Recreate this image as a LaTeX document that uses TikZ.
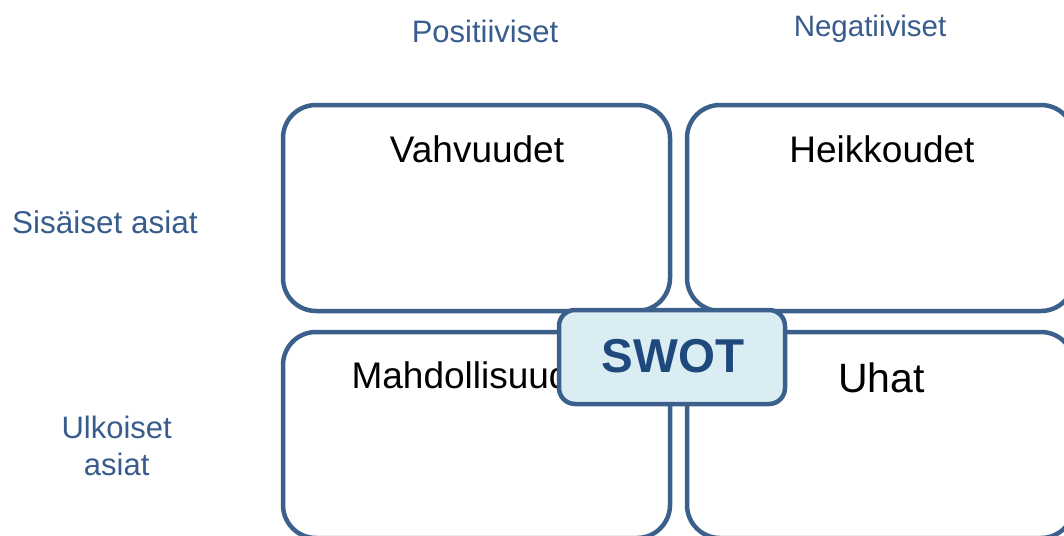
\documentclass[tikz,border=0pt]{standalone}
\usepackage{fontspec}
\setmainfont{Liberation Sans}
\definecolor{edgeblue}{RGB}{60,96,140}
\definecolor{labelblue}{RGB}{56,93,140}
\definecolor{swottext}{RGB}{31,73,125}
\definecolor{swotfill}{RGB}{218,237,243}
\begin{document}
\begin{tikzpicture}[x=1pt,y=-1pt,
  quad/.style={rectangle, draw=edgeblue, line width=4.5pt, rounded corners=33pt,
    minimum width=387pt, minimum height=206pt, inner sep=0pt, fill=white},
  title/.style={anchor=base, inner sep=0pt, text=black},
  side/.style={inner sep=0pt, text=labelblue},
  swotbox/.style={rectangle, draw=edgeblue, line width=4.5pt, rounded corners=16pt,
    minimum width=226pt, minimum height=94pt, inner sep=0pt, fill=swotfill,
    text=swottext, font=\bfseries\fontsize{47.5}{50}\selectfont}]
\useasboundingbox (0,0) rectangle (1064,535);
\clip (0,0) rectangle (1064,535);
% quadrants
\node[quad] (S) at (476.5,208) {};
\node[quad] (W) at (880.5,208) {};
\node[quad] (O) at (476.5,435) {};
\node[quad] (T) at (880.5,435) {};
% titles
\node[title, font=\fontsize{37}{44}\selectfont] (st) at (477,162) {Vahvuudet};
\node[title, font=\fontsize{37}{44}\selectfont] (wt) at (882,162) {Heikkoudet};
\node[title, font=\fontsize{37}{44}\selectfont] (ot) at (476,388) {Mahdollisuudet};
\node[title, font=\fontsize{41}{48}\selectfont] (tt) at (881.5,392) {Uhat};
% side labels
\node[side, anchor=base, font=\fontsize{31}{36}\selectfont] (pos) at (485,42) {Positiiviset};
\node[side, anchor=base, font=\fontsize{29.5}{36}\selectfont] (neg) at (870,37) {Negatiiviset};
\node[side, anchor=base, font=\fontsize{31.5}{36}\selectfont] (int) at (105,233) {Sisäiset asiat};
\node[side, anchor=north, align=center, font=\fontsize{31}{37}\selectfont] (ext) at (116.7,416) {Ulkoiset\\asiat};
% centre badge
\node[swotbox] (swot) at (672,357) {};
\node[anchor=base, inner sep=0pt, text=swottext, font=\bfseries\fontsize{47.5}{50}\selectfont] (swotlabel) at (673,372.3) {SWOT};
\end{tikzpicture}
\end{document}
